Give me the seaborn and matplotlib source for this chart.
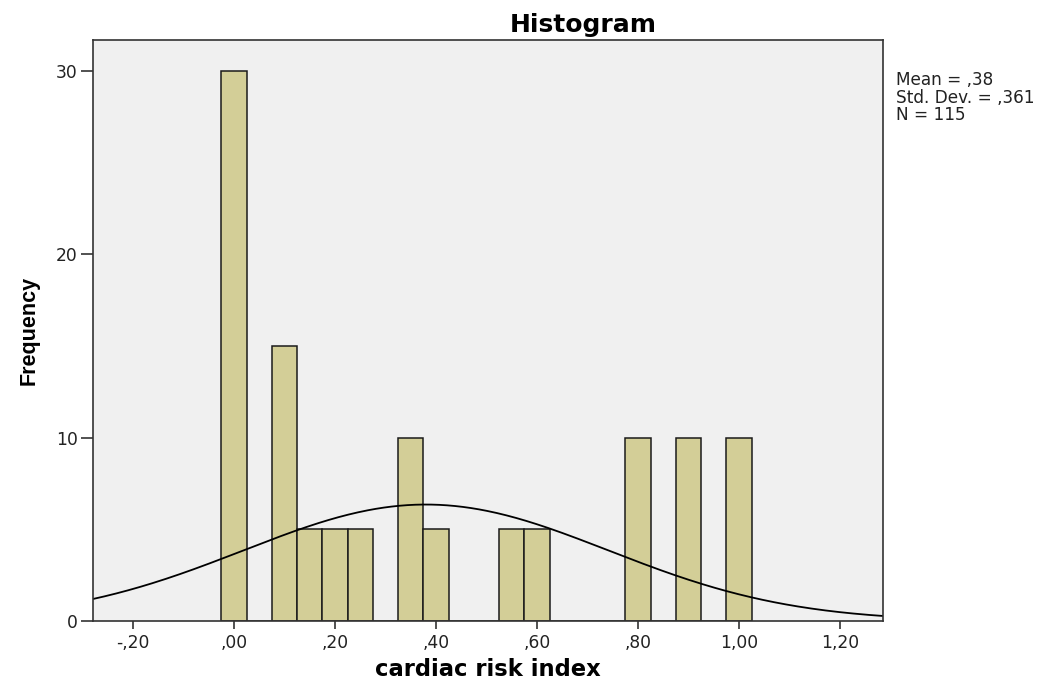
import numpy as np
import pandas as pd
import matplotlib
matplotlib.use("Agg")
import matplotlib.pyplot as plt
import seaborn as sns

# Data
bin_centers = [0.00, 0.10, 0.15, 0.20, 0.25, 0.35, 0.40, 0.55, 0.60, 0.80, 0.90, 1.00]
frequencies = [30, 15, 5, 5, 5, 10, 5, 5, 5, 10, 10, 10]
mean_val = 0.38
std_val = 0.361
n_total = 115
bin_width = 0.05
xtick_vals = [-0.20, 0.00, 0.20, 0.40, 0.60, 0.80, 1.00, 1.20]
xtick_labels = ["-,20", ",00", ",20", ",40", ",60", ",80", "1,00", "1,20"]
ytick_vals = [0, 10, 20, 30]

sns.set_theme(style="white")
plt.rcParams['font.family'] = ['DejaVu Sans']

fig = plt.figure(figsize=(10.43, 6.84), dpi=100)
ax = fig.add_axes([93/1043, 1-621/684, (883-93)/1043, (621-40)/684])
ax.set_facecolor("#F0F0F0")

df = pd.DataFrame({"x": bin_centers, "w": frequencies})
sns.histplot(data=df, x="x", weights="w", binwidth=bin_width,
             binrange=(-0.025, 1.025), ax=ax,
             color="#D3CE97", alpha=1.0, edgecolor="#1a1a1a", linewidth=1.1)

xs = np.linspace(-0.28, 1.285, 400)
ys = n_total * bin_width * np.exp(-0.5 * ((xs - mean_val) / std_val) ** 2) / (std_val * np.sqrt(2 * np.pi))
sns.lineplot(x=xs, y=ys, ax=ax, color="black", linewidth=1.3)

ax.set_xlim(-0.279, 1.285)
ax.set_ylim(0, 31.7)
ax.set_xticks(xtick_vals)
ax.set_xticklabels(xtick_labels)
ax.set_yticks(ytick_vals)
ax.tick_params(axis="both", which="both", direction="out", width=1.2,
               color="#333333", labelsize=12.3, labelcolor="#222222",
               bottom=True, left=True, top=False, right=False)
ax.tick_params(axis="x", length=6, pad=3)
ax.tick_params(axis="y", length=9, pad=2)
for s in ax.spines.values():
    s.set_color("#333333")
    s.set_linewidth(1.2)

ax.set_xlabel("cardiac risk index", fontsize=16.3, fontweight="bold", labelpad=5,
              color="black")
ax.set_ylabel("Frequency", fontsize=15.5, fontweight="bold", labelpad=12,
              color="black", family=['Liberation Sans', 'DejaVu Sans'])
ax.set_title("")
fig.text(583/1043, 1-32/684, "Histogram", fontsize=18, fontweight="bold",
         ha="center", va="baseline", color="black")

fig.text(896/1043, 1-71/684, "Mean = ,38\nStd. Dev. = ,361\nN = 115",
         fontsize=12.2, va="top", ha="left", linespacing=0.97, color="#222222")

fig.savefig("out.png", dpi=100, facecolor="white")
